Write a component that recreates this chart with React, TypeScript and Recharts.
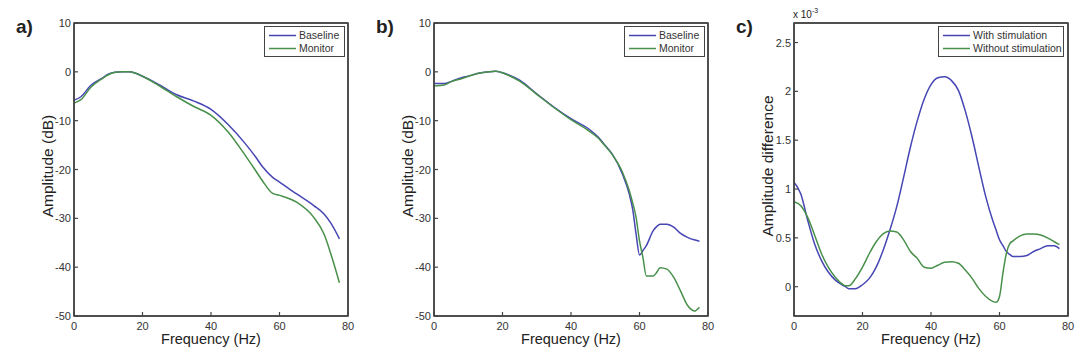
import React from "react";
import { LineChart, Line, XAxis, YAxis, ReferenceLine } from "recharts";

// ---- Panel a ----
const freqA = [0, 2, 5, 8, 10, 12, 14, 16, 18, 20, 25, 30, 35, 40, 45, 50, 53, 55, 58, 60, 65, 70, 73, 75, 77.5];
const baselineA = [-5.8, -5.1, -2.7, -1.4, -0.5, -0.1, 0, 0, -0.3, -0.9, -2.7, -4.7, -6.0, -7.7, -10.8, -14.7, -17.4, -19.4, -21.6, -22.6, -25.0, -27.4, -29.1, -31.0, -34.2];
const monitorA = [-6.4, -5.7, -3.1, -1.5, -0.6, -0.1, 0, 0, -0.3, -0.9, -2.9, -5.1, -7.1, -8.9, -12.3, -17.1, -20.2, -22.3, -24.9, -25.3, -26.7, -29.8, -33.2, -37.3, -43.2];

// ---- Panel b ----
const freqB = [0, 3, 5, 8, 10, 13, 16, 18, 20, 22, 25, 30, 35, 40, 45, 48, 50, 52, 55, 57, 58, 59, 60, 61, 62, 64, 65, 66, 68, 70, 72, 74, 75, 76, 77.5];
const baselineB = [-2.4, -2.4, -2.0, -1.2, -0.9, -0.3, 0, 0.1, -0.2, -0.7, -1.7, -4.5, -7.2, -9.6, -11.6, -13.4, -15.1, -16.8, -20.9, -25.0, -28.1, -33.2, -37.5, -36.6, -35.6, -32.5, -31.7, -31.2, -31.2, -31.8, -33.1, -33.9, -34.2, -34.4, -34.7];
const monitorB = [-2.9, -2.7, -2.0, -1.4, -0.9, -0.3, 0, 0.1, -0.2, -0.8, -1.9, -4.6, -7.3, -9.8, -12.0, -13.6, -15.2, -16.9, -20.5, -24.3, -26.8, -29.8, -34.6, -38.0, -41.8, -41.8, -41.1, -40.1, -40.4, -42.1, -44.9, -47.8, -48.6, -49.0, -48.2];

// ---- Panel c (units of 1e-3) ----
const freqC = [0, 2, 4, 6, 8, 10, 12, 14, 15, 16, 18, 20, 22, 24, 26, 28, 30, 32, 34, 36, 38, 40, 42, 44, 46, 48, 50, 52, 54, 56, 58, 59, 60, 61, 62, 63, 64, 66, 68, 70, 72, 74, 76, 77.5];
const withStim = [1.07, 0.95, 0.68, 0.44, 0.27, 0.15, 0.07, 0.02, 0.0, -0.02, -0.02, 0.02, 0.085, 0.2, 0.37, 0.58, 0.82, 1.12, 1.43, 1.7, 1.92, 2.07, 2.14, 2.15, 2.11, 2.01, 1.8, 1.53, 1.22, 0.92, 0.68, 0.58, 0.48, 0.42, 0.36, 0.33, 0.31, 0.31, 0.32, 0.36, 0.39, 0.42, 0.42, 0.39];
const withoutStim = [0.87, 0.83, 0.71, 0.53, 0.34, 0.2, 0.1, 0.03, 0.01, 0.01, 0.085, 0.2, 0.34, 0.46, 0.54, 0.57, 0.56, 0.48, 0.36, 0.29, 0.2, 0.19, 0.22, 0.25, 0.255, 0.24, 0.17, 0.085, -0.02, -0.1, -0.15, -0.16, -0.1, 0.14, 0.34, 0.44, 0.47, 0.52, 0.54, 0.54, 0.53, 0.5, 0.46, 0.43];

const xTicks = [0, 20, 40, 60, 80];
const dbTicks = [-50, -40, -30, -20, -10, 0, 10];
const diffTicks = [0, 0.5, 1, 1.5, 2, 2.5];
const dbTickLabels = ["-50", "-40", "-30", "-20", "-10", "0", "10"];
const diffTickLabels = ["0", "0.5", "1", "1.5", "2", "2.5"];

const BLUE = "#4646b4";
const GREEN = "#48904a";
const AXIS = "#444";
const TEXT = "#333";
const FONT = "'Liberation Sans', Arial, sans-serif";
const TICK = 4;
const FRAME_W = 1.5;

// chart layout (per panel)
const PANEL_W = 360;
const PLOT_LEFT = 74;
const PLOT_TOP = 23;
const PLOT_RIGHT_PAD = 12;
const XAXIS_H = 44;

const zip = (xs: number[], a: number[], b: number[]) => xs.map((x, i) => ({ f: x, s1: a[i], s2: b[i] }));

const BottomTick = (props: any) => {
  const { x, y, payload } = props;
  return (
    <g>
      <line x1={x} x2={x} y1={y} y2={y - TICK} stroke={AXIS} strokeWidth={1.2} />
      <text x={x} y={y + 14} textAnchor="middle" fontSize={11} fill={TEXT} fontFamily={FONT}>
        {payload.value}
      </text>
    </g>
  );
};
const makeLeftTick = (labels: Record<string, string>) => (props: any) => {
  const { x, y, payload } = props;
  return (
    <g>
      <line x1={x} x2={x + TICK} y1={y} y2={y} stroke={AXIS} strokeWidth={1.2} />
      <text x={x - 3} y={y + 4} textAnchor="end" fontSize={11} fill={TEXT} fontFamily={FONT}>
        {labels[String(payload.value)] ?? payload.value}
      </text>
    </g>
  );
};

const LegendBox = ({ names, width, left }: { names: string[]; width: number; left: number }) => (
  <div
    style={{
      position: "absolute",
      left,
      top: 26,
      width,
      height: 31,
      border: `1px solid ${AXIS}`,
      background: "#fff",
      fontFamily: FONT,
      fontSize: 10.5,
      color: TEXT,
      boxSizing: "border-box",
      paddingTop: 2,
    }}
  >
    {names.map((n, i) => (
      <div key={n} style={{ display: "flex", alignItems: "center", height: 13 }}>
        <svg width={34} height={13} style={{ display: "block" }}>
          <line x1={4} x2={31} y1={6.5} y2={6.5} stroke={i === 0 ? BLUE : GREEN} strokeWidth={1.5} />
        </svg>
        <span style={{ lineHeight: "13px" }}>{n}</span>
      </div>
    ))}
  </div>
);

type PanelProps = {
  data: { f: number; s1: number; s2: number }[];
  yDomain: [number, number];
  yTicks: number[];
  yLabels: string[];
  names: string[];
};

const Panel = ({ data, yDomain, yTicks, yLabels, names }: PanelProps) => {
  const labelMap: Record<string, string> = {};
  yTicks.forEach((t, i) => (labelMap[String(t)] = yLabels[i]));
  const LeftTick = makeLeftTick(labelMap);
  return (
    <LineChart width={PANEL_W} height={360} data={data} margin={{ top: PLOT_TOP, right: PLOT_RIGHT_PAD, bottom: 0, left: 0 }}>
      <XAxis
        dataKey="f"
        type="number"
        domain={[0, 80]}
        ticks={xTicks}
        tickLine={false}
        tickSize={0}
        tickMargin={0}
        height={XAXIS_H}
        axisLine={{ stroke: AXIS, strokeWidth: FRAME_W }}
        tick={<BottomTick />}
        interval={0}
      />
      <YAxis
        type="number"
        domain={yDomain}
        ticks={yTicks}
        tickLine={false}
        tickSize={0}
        tickMargin={0}
        width={PLOT_LEFT}
        axisLine={{ stroke: AXIS, strokeWidth: FRAME_W }}
        tick={<LeftTick />}
        interval={0}
        allowDataOverflow
      />
      <ReferenceLine x={80} stroke={AXIS} strokeWidth={FRAME_W} ifOverflow="visible" />
      <ReferenceLine y={yDomain[1]} stroke={AXIS} strokeWidth={FRAME_W} ifOverflow="visible" />
      <Line type="monotone" dataKey="s1" name={names[0]} stroke={BLUE} strokeWidth={1.5} dot={false} isAnimationActive={false} />
      <Line type="monotone" dataKey="s2" name={names[1]} stroke={GREEN} strokeWidth={1.5} dot={false} isAnimationActive={false} />
    </LineChart>
  );
};

const titleStyle = { fontFamily: FONT, fill: "#222" } as const;

export default function App() {
  const dataA = zip(freqA, baselineA, monitorA);
  const dataB = zip(freqB, baselineB, monitorB);
  const dataC = zip(freqC, withStim, withoutStim);
  const namesAB = ["Baseline", "Monitor"];
  const namesC = ["With stimulation", "Without stimulation"];
  const plotW = PANEL_W - PLOT_LEFT - PLOT_RIGHT_PAD;
  const plotH = 360 - PLOT_TOP - XAXIS_H;
  return (
    <div style={{ position: "fixed", left: 0, top: 0, width: 1090, height: 360, background: "#fff" }}>
      <div style={{ position: "absolute", left: 0, top: 0 }}>
        <Panel data={dataA} yDomain={[-50, 10]} yTicks={dbTicks} yLabels={dbTickLabels} names={namesAB} />
      </div>
      <div style={{ position: "absolute", left: 360, top: 0 }}>
        <Panel data={dataB} yDomain={[-50, 10]} yTicks={dbTicks} yLabels={dbTickLabels} names={namesAB} />
      </div>
      <div style={{ position: "absolute", left: 720, top: 0 }}>
        <Panel data={dataC} yDomain={[-0.3, 2.7]} yTicks={diffTicks} yLabels={diffTickLabels} names={namesC} />
      </div>
      <svg width={1090} height={360} style={{ position: "absolute", left: 0, top: 0, pointerEvents: "none" }}>
        {[0, 360, 720].map((ox) => (
          <rect key={ox} x={ox + PLOT_LEFT} y={PLOT_TOP} width={plotW} height={plotH} fill="none" stroke={AXIS} strokeWidth={FRAME_W} />
        ))}
        <text x={16} y={33} fontSize={19} fontWeight="bold" {...titleStyle}>a)</text>
        <text x={376} y={33} fontSize={19} fontWeight="bold" {...titleStyle}>b)</text>
        <text x={736} y={33} fontSize={19} fontWeight="bold" {...titleStyle}>c)</text>
        <text x={211} y={344} fontSize={14.5} textAnchor="middle" {...titleStyle}>Frequency (Hz)</text>
        <text x={571} y={344} fontSize={14.5} textAnchor="middle" {...titleStyle}>Frequency (Hz)</text>
        <text x={931} y={344} fontSize={14.5} textAnchor="middle" {...titleStyle}>Frequency (Hz)</text>
        <text transform="translate(53,166) rotate(-90)" fontSize={15.5} textAnchor="middle" {...titleStyle}>Amplitude (dB)</text>
        <text transform="translate(413,166) rotate(-90)" fontSize={15.5} textAnchor="middle" {...titleStyle}>Amplitude (dB)</text>
        <text transform="translate(773,166) rotate(-90)" fontSize={15.5} textAnchor="middle" {...titleStyle}>Amplitude difference</text>
        <text x={793} y={18} fontSize={10} {...titleStyle}>
          x 10<tspan dy={-5} fontSize={7}>-3</tspan>
        </text>
      </svg>
      <LegendBox names={namesAB} width={81} left={264} />
      <LegendBox names={namesAB} width={81} left={624} />
      <LegendBox names={namesC} width={126} left={938} />
    </div>
  );
}
